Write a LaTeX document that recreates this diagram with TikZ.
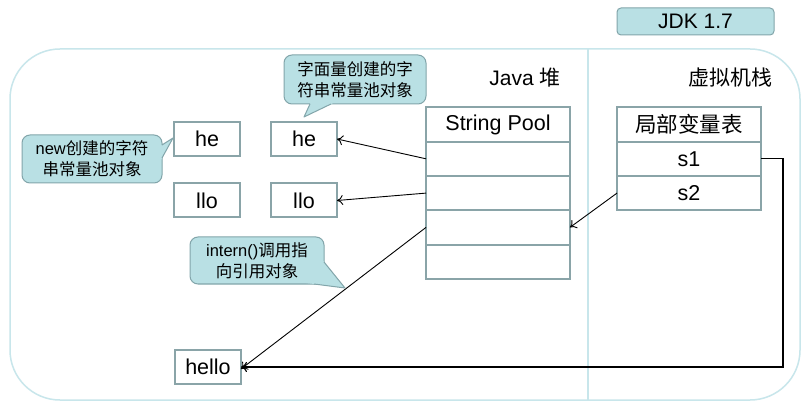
\documentclass[tikz,border=0pt]{standalone}
\usepackage{fontspec}
\setmainfont{Liberation Sans}
\newfontfamily\cjk{Noto Sans CJK SC}
\usetikzlibrary{arrows.meta,calc}
\definecolor{boxc}{RGB}{138,164,168}
\definecolor{cfill}{RGB}{185,224,228}
\definecolor{cline}{RGB}{130,165,170}
\definecolor{outerc}{RGB}{200,230,235}
\tikzset{
  cell/.style={draw=boxc, line width=2pt, fill=white, inner sep=0pt, outer sep=0pt,
    minimum width=144pt, minimum height=34.3pt, font=\fontsize{21.5}{24}\selectfont},
  strbox/.style={draw=boxc, line width=2pt, fill=white, inner sep=0pt, outer sep=0pt,
    minimum width=66pt, minimum height=34pt, font=\fontsize{21.5}{24}\selectfont},
  callbox/.style={draw=cline, fill=cfill, line width=1pt, rounded corners=8pt,
    inner sep=0pt, outer sep=0pt, align=center, font=\fontsize{16.5}{21}\selectfont},
  tailfill/.style={fill=cfill, draw=none},
  tailedge/.style={draw=cline, line width=1pt, line join=round},
  conn/.style={-{To[length=6pt,width=10pt]}, line width=0.9pt, black},
  heading/.style={font=\fontsize{21}{24}\selectfont, inner sep=0pt},
}
\begin{document}
\begin{tikzpicture}[x=1pt,y=-1pt]
\useasboundingbox (0,0) rectangle (810,411);
\fill[white] (0,0) rectangle (810,411);
% outer frame and divider
\draw[outerc, line width=1.5pt, rounded corners=50pt] (10,49) rectangle (800,400);
\coordinate (divtop) at (588,49);
\coordinate (divbot) at (588,400);
\draw[outerc, line width=1.2pt] (divtop) -- (divbot);
% JDK label
\node[draw=cline, fill=cfill, line width=1pt, rounded corners=4pt, minimum width=157pt,
  minimum height=27pt, inner sep=0pt, font=\fontsize{21}{24}\selectfont] (jdk) at (695.5,21.5) {JDK 1.7};
% headings
\node[heading] (heap) at (525,78) {Java {\cjk 堆}};
\node[heading] (vms) at (730,78) {\cjk 虚拟机栈};
% string pool table
\node[cell] (p0) at (498,124.5) {String Pool};
\node[cell] (p1) at (498,158.8) {};
\node[cell] (p2) at (498,193.1) {};
\node[cell] (p3) at (498,227.4) {};
\node[cell] (p4) at (498,261.7) {};
% local variable table
\node[cell] (v0) at (689,124.5) {\cjk 局部变量表};
\node[cell] (s1) at (689,158.8) {s1};
\node[cell] (s2) at (689,193.1) {s2};
% string objects
\node[strbox] (he1) at (207,139) {he};
\node[strbox] (he2) at (304,139) {he};
\node[strbox] (llo1) at (207,200.5) {llo};
\node[strbox] (llo2) at (304,200.5) {llo};
\node[strbox] (hello) at (208,367) {hello};
% connectors
\draw[conn] (p1.west) -- (he2.east);
\draw[conn] (p2.west) -- (llo2.east);
\draw[conn] (p3.west) -- ([yshift=-2pt]hello.east);
\draw[conn] (s2.west) -- (p3.east);
\coordinate (turn) at (783,158.8);
\draw[conn, line width=1.1pt] (s1.east) -- (turn) |- (hello.east);
% callout 1
\node[callbox, minimum width=142pt, minimum height=49pt] (c1) at (355,79.5)
  {\cjk 字面量创建的字\\\cjk 符串常量池对象};
\coordinate (c1a) at (310,104); \coordinate (c1b) at (331,104); \coordinate (c1t) at (304,117);
\fill[tailfill] ($(c1a)!-0.4!(c1t)$) -- (c1t) -- ($(c1b)!-0.4!(c1t)$) -- cycle;
\draw[tailedge] (c1a) -- (c1t) -- (c1b);
% callout 2
\node[callbox, minimum width=140pt, minimum height=48pt] (c2) at (92,159)
  {new{\cjk 创建的字符}\\\cjk 串常量池对象};
\coordinate (c2a) at (162,145); \coordinate (c2b) at (162,158); \coordinate (c2t) at (173,138);
\fill[tailfill] ($(c2a)!-0.4!(c2t)$) -- (c2t) -- ($(c2b)!-0.4!(c2t)$) -- cycle;
\draw[tailedge] (c2a) -- (c2t) -- (c2b);
% callout 3
\node[callbox, minimum width=134pt, minimum height=47pt] (c3) at (257,260.5)
  {intern(){\cjk 调用指}\\\cjk 向引用对象};
\coordinate (c3a) at (324,262); \coordinate (c3b) at (314,284); \coordinate (c3t) at (345,288);
\fill[tailfill] ($(c3a)!-0.4!(c3t)$) -- (c3t) -- ($(c3b)!-0.4!(c3t)$) -- cycle;
\draw[tailedge] (c3a) -- (c3t) -- (c3b);
\end{tikzpicture}
\end{document}
